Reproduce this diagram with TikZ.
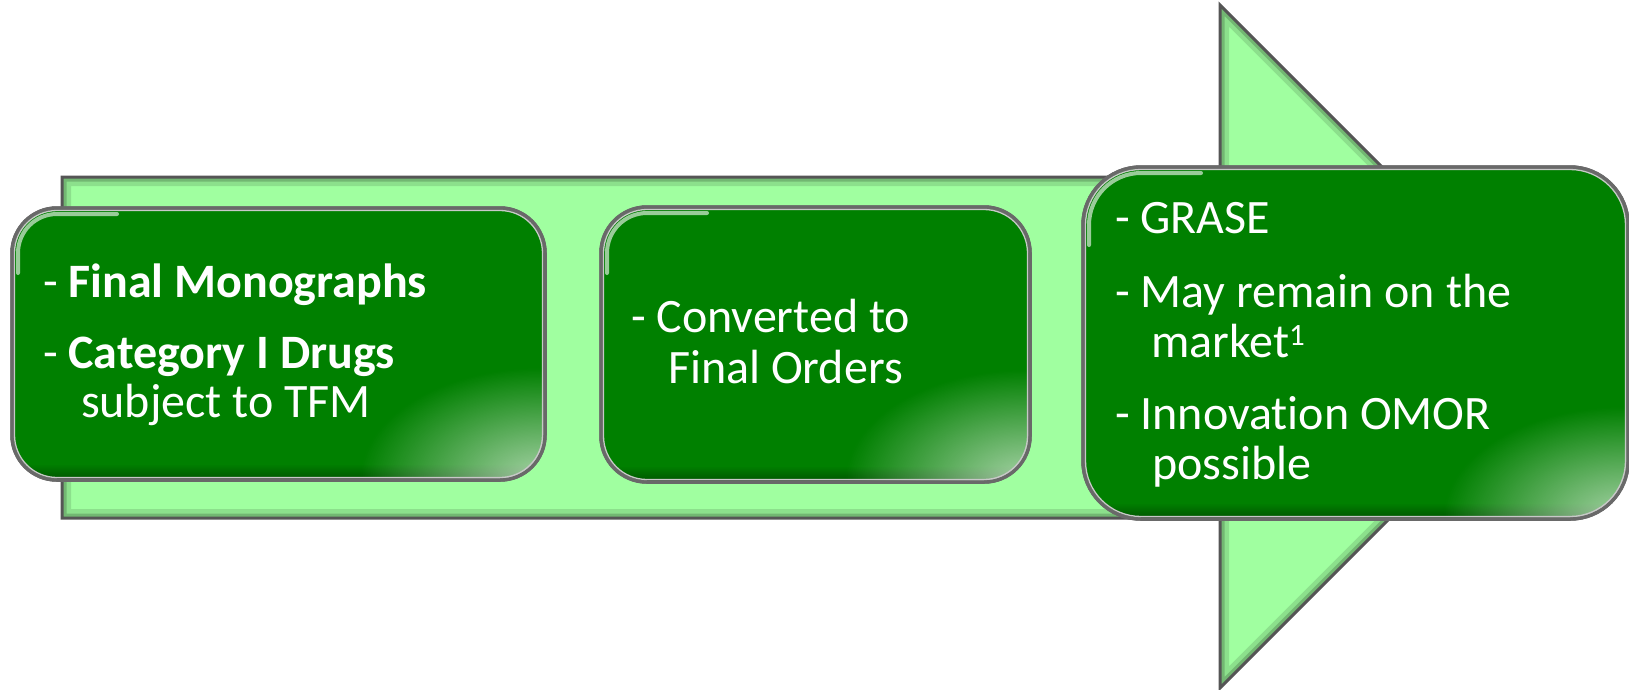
\documentclass[tikz,border=0pt]{standalone}
\usepackage{fontspec}
\setmainfont{Carlito}[Ligatures={NoCommon,NoRare}]
\usetikzlibrary{fadings}
\tikzfading[name=glowfade, inner color=transparent!0, outer color=transparent!100]
\definecolor{boxgreen}{RGB}{0,128,0}
\definecolor{arrowgreen}{RGB}{160,255,160}
\definecolor{rimgray}{RGB}{105,105,105}
\definecolor{rimlight}{RGB}{200,200,200}
\definecolor{arrowrim}{RGB}{85,85,85}
\tikzset{
  gboxnode/.style={rectangle, fill=boxgreen, draw=rimgray, line width=3.5pt, inner sep=0pt, outer sep=0pt},
  txt/.style={anchor=base west, inner sep=0pt, outer sep=0pt, text=white, font=\fontsize{48}{56}\selectfont},
}
\newcommand\gbox[6]{%
  \node[gboxnode, minimum width={(#4-#2)*1pt}, minimum height={(#5-#3)*1pt}, rounded corners=#6pt] (#1) at ({(#2+#4)/2},{(#3+#5)/2}) {};
  \begin{scope}
    \clip[rounded corners=#6pt] (#2,#3) rectangle (#4,#5);
    \fill[black, fill opacity=0.35, path fading=north] (#2,{#5-16}) rectangle (#4,#5);
    \fill[white, fill opacity=0.65, path fading=glowfade] ({#4-4},{#5-2}) ellipse [x radius=180, y radius=110];
    \draw[white, line width=4pt, opacity=0.6, line cap=round] ({#2+6},{#3+#6+20}) -- ({#2+6},{#3+#6}) arc[start angle=180, end angle=270, radius={#6-6}] -- ({#2+#6+60},{#3+6});
  \end{scope}
  \draw[rimgray, line width=3.5pt, rounded corners=#6pt] (#2,#3) rectangle (#4,#5);
  \draw[rimlight, line width=1.3pt, rounded corners={(#6-2.5)*1pt}] ({#2+2.5},{#3+2.5}) rectangle ({#4-2.5},{#5-2.5});
}
\begin{document}
\begin{tikzpicture}[x=1pt, y=-1pt]
  \useasboundingbox (0,0) rectangle (1629,689);
  \fill[white] (0,0) rectangle (1629,689);
  % big arrow
  \def\arrowpath{(62,177) -- (1220,177) -- (1220,5) -- (1561.5,346.5) -- (1220,688) -- (1220,518) -- (62,518) -- cycle}
  \fill[arrowgreen] \arrowpath;
  \begin{scope}
    \clip \arrowpath;
    \draw[black, opacity=0.12, line width=18pt, line join=miter] \arrowpath;
    \draw[black, opacity=0.18, line width=9pt, line join=miter] \arrowpath;
  \end{scope}
  \draw[arrowrim, line width=3pt, line join=miter] \arrowpath;
  % boxes
  \gbox{b1}{12}{208}{545}{480}{45}
  \gbox{b2}{601}{207}{1030}{482}{46}
  \gbox{b3}{1083}{167}{1628}{519}{58}
  % texts box 1
  \node[txt] (t11) at (43,297) {- \textbf{Final Monographs}};
  \node[txt] (t12) at (43,368) {- \textbf{Category I Drugs}};
  \node[txt] (t13) at (81,417) {subject to TFM};
  % texts box 2
  \node[txt] (t21) at (631,332) {- Converted to};
  \node[txt] (t22) at (668,383) {Final Orders};
  % texts box 3
  \node[txt] (t31) at (1115,233) {- GRASE};
  \node[txt] (t32) at (1115,307) {- May remain on the};
  \node[txt] (t33) at (1151,357) {market\raisebox{12pt}{\fontsize{31}{31}\selectfont 1}};
  \node[txt] (t34) at (1115,429) {- Innovation OMOR};
  \node[txt] (t35) at (1152,479) {possible};
\end{tikzpicture}
\end{document}
